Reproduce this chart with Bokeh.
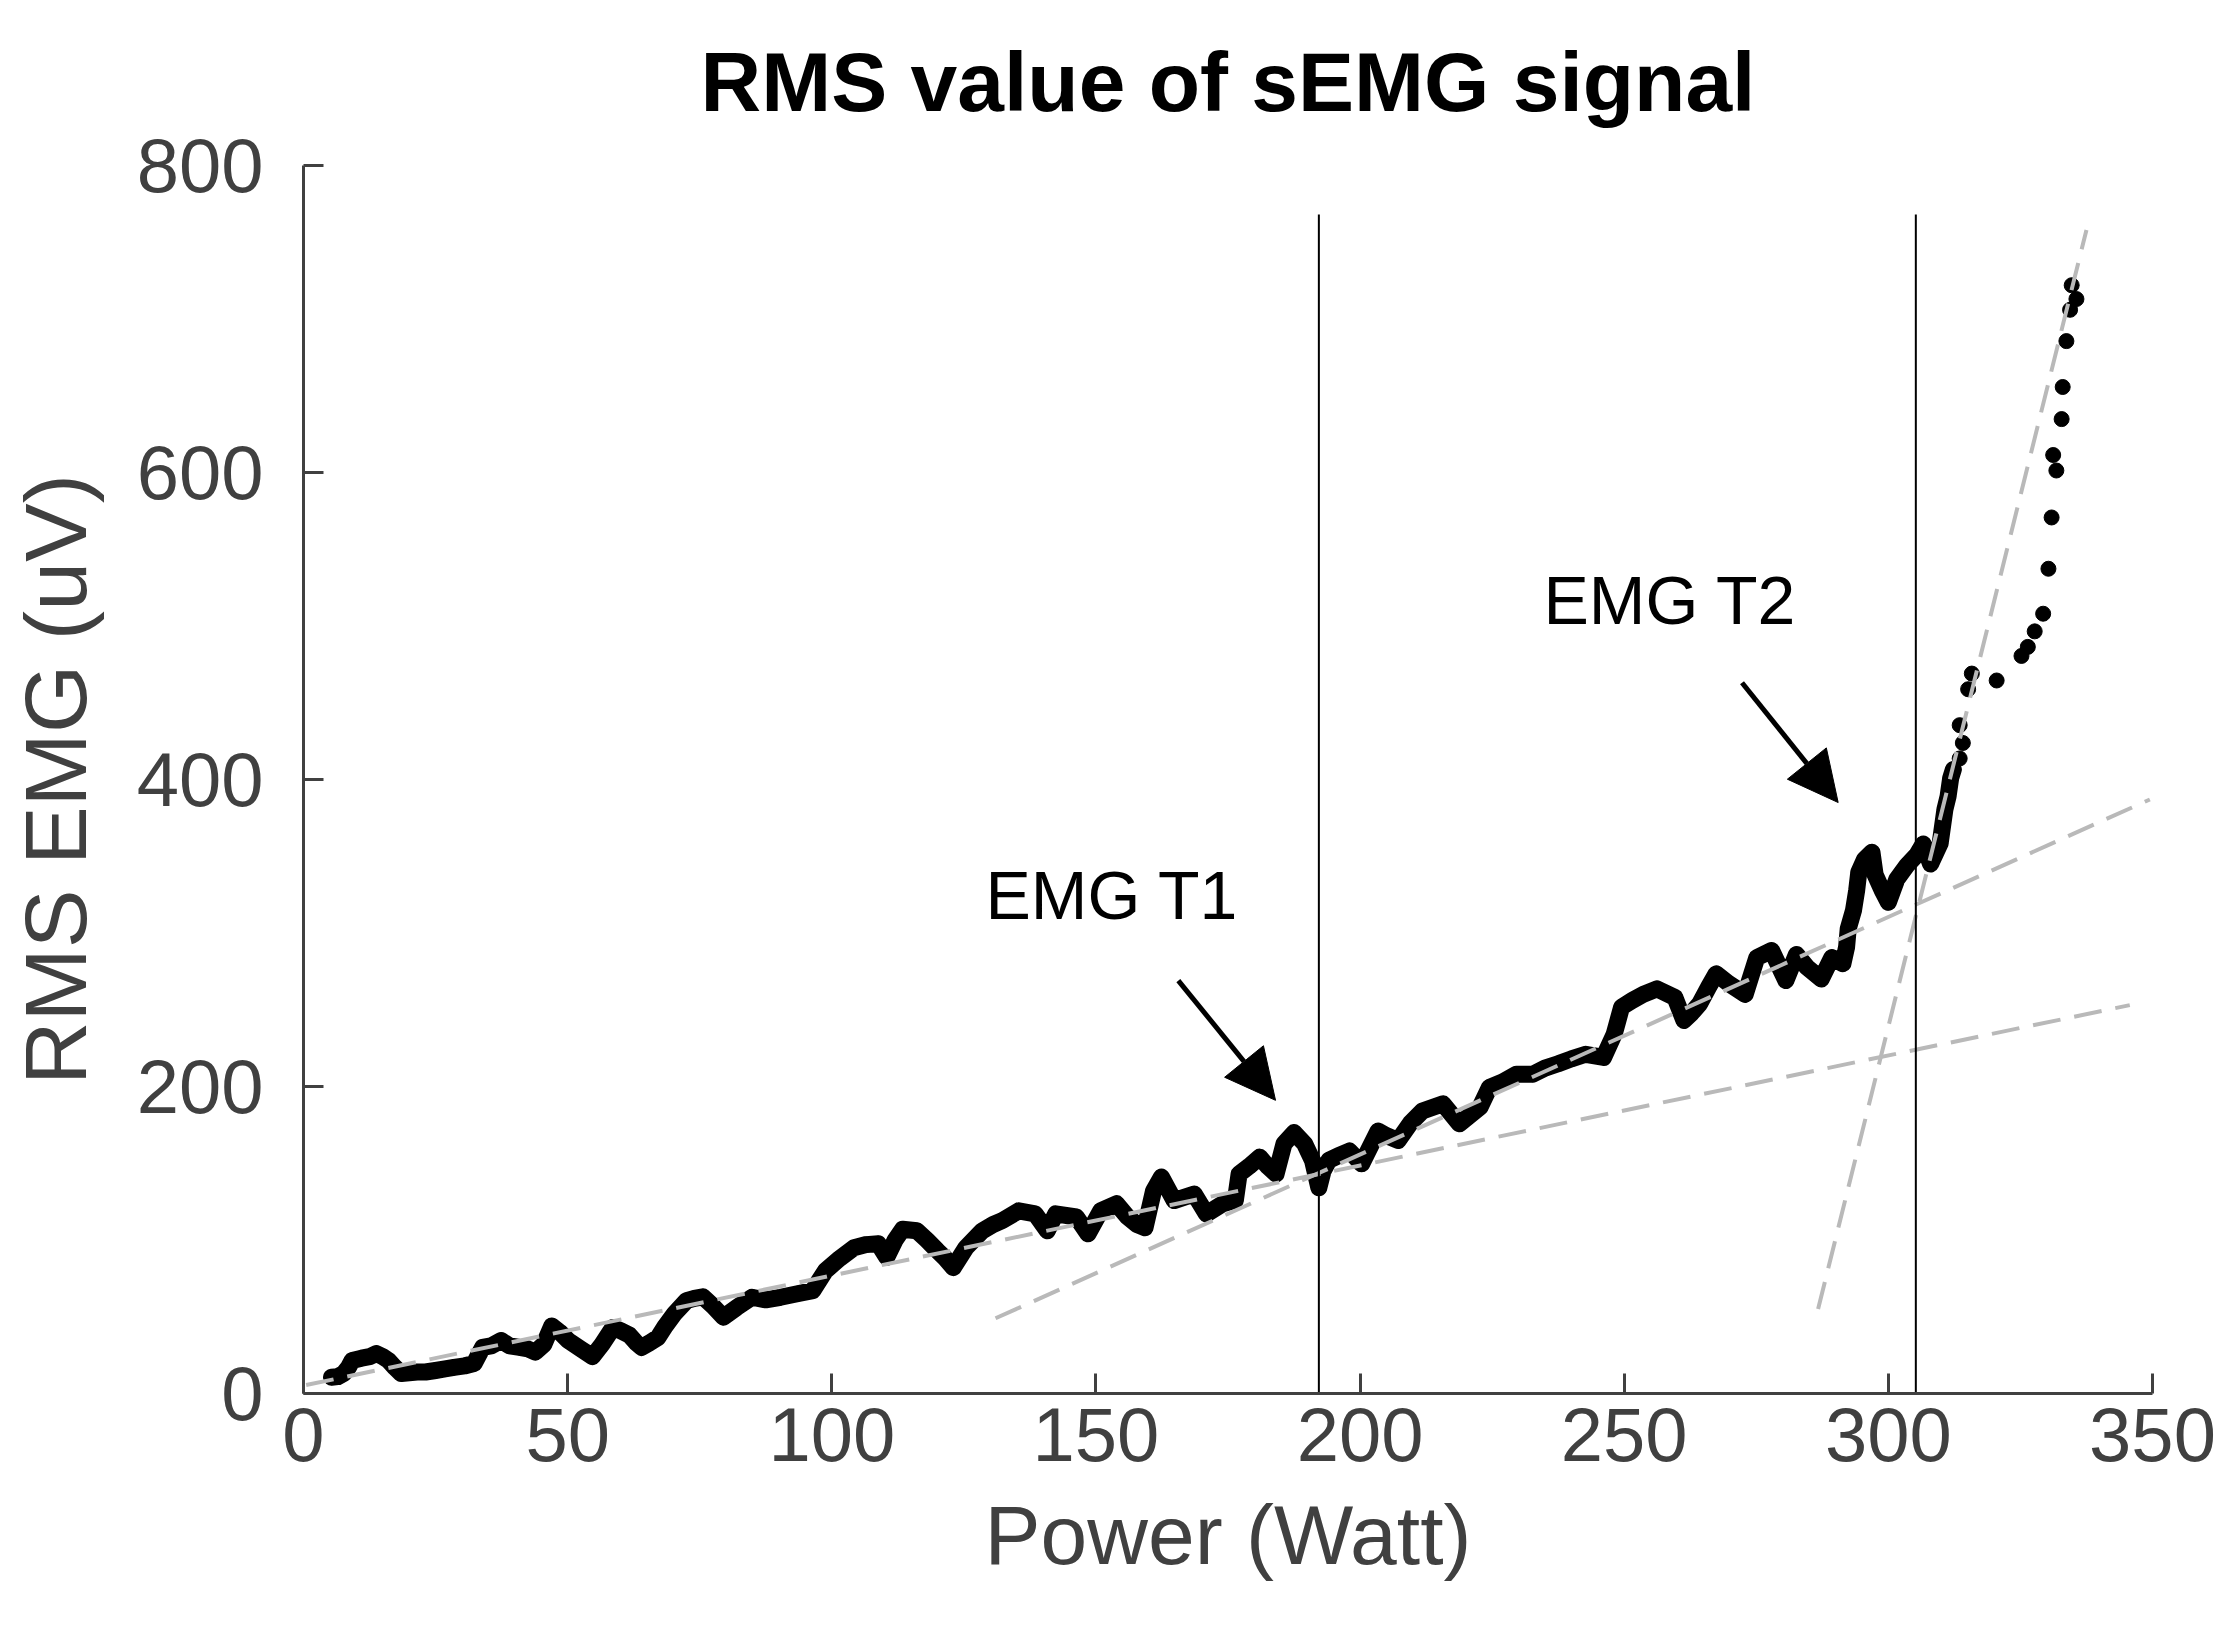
from bokeh.plotting import figure
from bokeh.models import Range1d, FixedTicker, Label, Arrow, NormalHead
from bokeh.embed import file_html
from bokeh.resources import INLINE

# ---- data ----
power = [5.3, 6.5, 7.6, 8.5, 9.2, 11.0, 12.5, 13.8, 15.0, 16.1, 17.3, 18.5, 20.0, 21.5, 23.1,
         25.0, 26.8, 28.5, 30.5, 32.3, 33.9, 35.5, 37.4, 39.0, 40.9, 42.5, 43.9, 45.5, 47.0,
         48.5, 50.1, 52.5, 54.7, 56.5, 58.6, 60.0, 61.7, 63.0, 64.0, 65.5, 67.1, 68.5, 70.2,
         72.5, 74.0, 75.6, 77.5, 79.5, 82.0, 84.9, 87.5, 90.3, 93.5, 96.4, 98.8, 101.5, 104.2,
         106.5, 108.8, 110.4, 112.0, 113.4, 116.1, 118.0, 120.0, 121.5, 123.0, 125.4, 128.5,
         130.5, 132.3, 135.4, 138.5, 140.8, 142.4, 146.3, 148.5, 150.9, 153.9, 156.0, 157.8,
         159.3, 160.9, 162.4, 164.8, 168.6, 170.9, 174.0, 176.4, 177.1, 179.0, 181.0, 182.5,
         184.1, 185.6, 187.5, 189.5, 191.0, 192.2, 193.0, 194.1, 196.0, 198.0, 200.3, 203.4,
         205.0, 207.2, 209.5, 211.8, 215.7, 218.8, 222.7, 224.5, 227.0, 229.6, 232.7, 235.0,
         237.5, 240.0, 242.7, 246.1, 248.1, 249.5, 251.5, 253.6, 256.2, 259.6, 261.3, 262.8,
         264.3, 266.0, 267.4, 269.8, 272.9, 275.1, 277.9, 280.6, 282.6, 284.6, 287.3, 289.3,
         291.4, 292.1, 292.4, 293.4, 294.0, 294.4, 295.5, 296.9, 297.5, 298.8, 300.0, 301.6,
         303.5, 305.4, 306.6, 308.0, 309.8, 310.7, 311.3, 311.8, 312.3]
rms = [10.6, 11.0, 13.0, 17.0, 21.5, 23.0, 24.0, 26.0, 24.0, 21.5, 17.0, 13.0, 13.5, 14.0, 14.0,
       15.0, 16.0, 17.0, 18.0, 19.5, 30.0, 31.0, 34.5, 31.0, 30.0, 29.0, 27.0, 32.0, 44.0,
       40.0, 34.5, 29.0, 24.0, 32.0, 43.0, 41.0, 38.0, 33.0, 30.0, 33.0, 36.5, 44.0, 52.0,
       60.5, 62.0, 63.0, 57.0, 49.7, 56.0, 62.7, 61.0, 62.7, 65.0, 67.0, 80.0, 88.0, 95.0,
       97.0, 97.6, 88.8, 100.0, 107.0, 106.0, 100.0, 93.0, 88.0, 82.0, 95.0, 106.0,
       110.0, 112.7, 119.0, 117.0, 106.0, 117.0, 115.0, 104.0, 119.0, 123.6, 115.0, 110.0,
       108.0, 132.0, 141.0, 125.7, 130.0, 117.0, 123.6, 126.0, 143.0, 148.0, 154.0, 148.0,
       143.0, 162.7, 170.0, 162.7, 151.8, 134.0, 145.0, 152.0, 155.0, 158.0, 149.6, 171.0,
       168.0, 164.8, 176.0, 184.0, 188.7, 175.7, 186.5, 199.5, 203.0, 208.0, 208.0, 212.0,
       214.8, 218.0, 221.0, 219.0, 234.0, 251.7, 256.0, 260.0, 263.6, 258.0, 243.0, 248.0,
       254.0, 265.0, 273.4, 267.0, 260.0, 284.0, 288.6, 269.0, 286.0, 277.7, 270.0, 284.0,
       280.0, 291.0, 302.7, 314.7, 327.7, 339.6, 348.0, 352.6, 338.0, 328.0, 320.0, 335.0,
       344.0, 351.0, 358.0, 345.0, 358.3, 380.4, 388.9, 401.0, 406.5]

power_high = [313.5, 314.1, 313.5, 315.1, 315.8, 320.5, 325.2, 326.4, 327.7, 329.3, 330.3,
              330.9, 331.8, 331.2, 332.8, 333.0, 333.7, 334.4, 335.6, 334.7]
rms_high = [413.7, 423.8, 435.4, 458.8, 469.0, 464.5, 480.5, 486.4, 496.5, 508.0, 537.3,
            570.7, 601.3, 611.4, 634.8, 655.7, 685.6, 706.0, 713.0, 722.0]

# regression lines (end points)
fit1_x = [0.5, 345.7]
fit1_y = [5.5, 253.0]
fit2_x = [131.0, 349.5]
fit2_y = [49.0, 387.0]
fit3_x = [286.7, 337.5]
fit3_y = [55.0, 758.0]

# thresholds
threshold_x = [192.2, 305.2]
threshold_top = 768.0

labels_text = ["EMG T1", "EMG T2"]
labels_x = [129.1, 234.7]
labels_y = [325.0, 517.0]
arrow_x0 = [165.6, 272.3]
arrow_y0 = [269.0, 463.0]
arrow_x1 = [184.0, 290.5]
arrow_y1 = [191.0, 385.0]

x_ticks = [0, 50, 100, 150, 200, 250, 300, 350]
y_ticks = [0, 200, 400, 600, 800]

title_text = "RMS value of sEMG signal"
x_label_text = "Power (Watt)"
y_label_text = "RMS EMG (uV)"

FONT = "Liberation Sans"
AX = "#404040"

p = figure(width=2217, height=1638, output_backend="svg", toolbar_location=None,
           x_range=Range1d(0, 350), y_range=Range1d(0, 800),
           min_border_left=303, min_border_right=65, min_border_top=165, min_border_bottom=245,
           title=title_text)
p.outline_line_color = None
p.grid.visible = False
p.background_fill_color = "white"
p.border_fill_color = "white"

p.title.text_font = FONT
p.title.text_font_style = "bold"
p.title.text_font_size = "84px"
p.title.text_color = "black"
p.title.align = "center"
p.title.vertical_align = "top"
p.title.offset = 31
p.title.standoff = 69

for ax, ticks in ((p.xaxis[0], x_ticks), (p.yaxis[0], y_ticks)):
    ax.ticker = FixedTicker(ticks=ticks)
    ax.minor_tick_line_color = None
    ax.major_tick_in = 20
    ax.major_tick_out = 0
    ax.major_tick_line_width = 3
    ax.major_tick_line_color = AX
    ax.axis_line_width = 3
    ax.axis_line_color = AX
    ax.major_label_text_font = FONT
    ax.major_label_text_font_size = "76px"
    ax.major_label_text_color = AX
    ax.axis_label_text_font = FONT
    ax.axis_label_text_color = AX
    ax.axis_label_text_font_style = "normal"

p.xaxis.axis_label = x_label_text
p.yaxis.axis_label = y_label_text
p.xaxis.axis_label_text_font_size = "84px"
p.yaxis.axis_label_text_font_size = "88px"
p.xaxis.major_label_standoff = 14
p.xaxis.axis_label_standoff = 24
p.yaxis.major_label_standoff = 40
p.yaxis.axis_label_standoff = 29

# data
p.line(power, rms, line_color="black", line_width=17, line_join="round", line_cap="round")
p.scatter(power, rms, size=15, fill_color="black", line_color="black")
p.scatter(power_high, rms_high, size=15, fill_color="black", line_color="black")

# regression lines
for fx, fy in ((fit1_x, fit1_y), (fit2_x, fit2_y), (fit3_x, fit3_y)):
    p.line(fx, fy, line_color="#b9b9b9", line_width=4, line_dash="28 14")

# threshold lines
p.segment(x0=threshold_x, y0=[0, 0], x1=threshold_x, y1=[threshold_top, threshold_top],
          line_color="black", line_width=2)

for t, lx, ly in zip(labels_text, labels_x, labels_y):
    p.add_layout(Label(x=lx, y=ly, text=t, text_font=FONT, text_font_size="68px",
                       text_color="black", text_baseline="alphabetic", text_align="left"))

for xs, ys, xe, ye in zip(arrow_x0, arrow_y0, arrow_x1, arrow_y1):
    p.add_layout(Arrow(x_start=xs, y_start=ys, x_end=xe, y_end=ye, line_width=5,
                       line_color="black",
                       end=NormalHead(size=50, fill_color="black", line_color="black")))

open("out.html", "w").write(file_html(p, INLINE))
